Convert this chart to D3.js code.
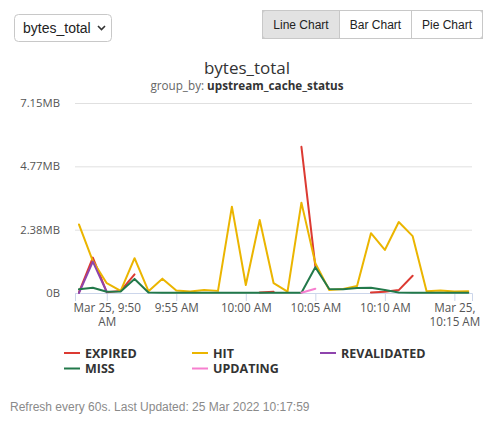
<!DOCTYPE html>
<html>
<head>
<meta charset="utf-8">
<script src="https://cdn.jsdelivr.net/npm/d3@7"></script>
<style>
  body { margin: 0; background: #fff; }
  svg text { font-family: "Open Sans", sans-serif; }
  .ui text { font-family: "Liberation Sans", Arial, sans-serif; }
</style>
</head>
<body>
<div id="chart"></div>
<script>
// data (values in MB, one point per minute)
var times = ["09:48","09:49","09:50","09:51","09:52","09:53","09:54","09:55","09:56","09:57",
             "09:58","09:59","10:00","10:01","10:02","10:03","10:04","10:05","10:06","10:07",
             "10:08","10:09","10:10","10:11","10:12","10:13","10:14","10:15","10:16"];

var expired = [0.02, 1.33, 0.03, 0.08, 0.70, null, null, null, null, null,
               null, null, null, 0.02, 0.05, null, 5.50, 1.00, null, null,
               null, 0.02, 0.05, 0.11, 0.65, null, null, null, null];
var hit = [2.58, 1.20, 0.37, 0.08, 1.31, 0.07, 0.54, 0.09, 0.06, 0.11,
           0.08, 3.25, 0.30, 2.75, 0.37, 0.05, 3.40, 1.12, 0.11, 0.15,
           0.26, 2.25, 1.62, 2.67, 2.14, 0.07, 0.09, 0.06, 0.07];
var revalidated = [0.00, 1.18, 0.03, null, null, null, null, null, null, null,
                   null, null, null, null, null, null, null, null, null, null,
                   null, null, null, null, null, null, null, null, null];
var miss = [0.14, 0.20, 0.05, 0.06, 0.53, 0.02, 0.01, 0.01, 0.01, 0.01,
            0.01, 0.01, 0.01, 0.01, 0.01, 0.01, 0.01, 0.97, 0.15, 0.14,
            0.19, 0.20, 0.11, 0.02, 0.01, 0.01, 0.01, 0.01, 0.01];
var updating = [null, null, null, null, null, null, null, null, null, null,
                null, null, null, null, null, null, 0.01, 0.16, null, null,
                null, null, null, null, null, null, null, null, null];

var seriesNames = ["EXPIRED", "HIT", "REVALIDATED", "MISS", "UPDATING"];
var seriesValues = [expired, hit, revalidated, miss, updating];
var seriesColors = ["#dc3a32", "#ebb500", "#8e44ad", "#22794a", "#f77fcf"];

var yTicks = [0, 2.383, 4.767, 7.15];
var yTickLabels = ["0B", "2.38MB", "4.77MB", "7.15MB"];
var xTicks = ["09:50", "09:55", "10:00", "10:05", "10:10", "10:15"];
var xTickLabels = ["Mar 25, 9:50|AM", "9:55 AM", "10:00 AM", "10:05 AM", "10:10 AM", "Mar 25,|10:15 AM"];
var xDomain = ["09:47:43", "10:16:16"];

var w = 495, h = 426;
var plotL = 75, plotR = 472, plotT = 103, plotB = 293;

var parseT = d3.timeParse("%H:%M");
var parseS = d3.timeParse("%H:%M:%S");

var svg = d3.select('#chart').append('svg')
  .attr('width', w)
  .attr('height', h);

// ---- controls (select + button group)
var ui = svg.append('g').attr('class', 'ui');

ui.append('rect')
  .attr('x', 14.5).attr('y', 14.5).attr('width', 97).attr('height', 27)
  .attr('rx', 4)
  .style('fill', '#fff').style('stroke', '#c8c8c8');
ui.append('text')
  .attr('x', 23).attr('y', 33)
  .style('font-size', '14px').style('fill', '#222')
  .text('bytes_total');
ui.append('path')
  .attr('d', 'M98,26 L101.5,29.5 L105,26')
  .style('fill', 'none').style('stroke', '#333').style('stroke-width', 1.6);

var buttons = ["Line Chart", "Bar Chart", "Pie Chart"];
var btnX = [262.5, 339.5, 411.5, 482.5];
buttons.forEach(function(b, i) {
  ui.append('rect')
    .attr('x', btnX[i]).attr('y', 10.5)
    .attr('width', btnX[i + 1] - btnX[i]).attr('height', 28)
    .style('fill', i == 0 ? '#e2e2e2' : '#fff')
    .style('stroke', '#c8c8c8');
  ui.append('text')
    .attr('x', (btnX[i] + btnX[i + 1]) / 2).attr('y', 29)
    .attr('text-anchor', 'middle')
    .style('font-size', '12px').style('fill', '#222')
    .text(b);
});
// rounded outer corners
ui.append('rect')
  .attr('x', 262.5).attr('y', 10.5).attr('width', 220).attr('height', 28)
  .attr('rx', 3)
  .style('fill', 'none').style('stroke', '#c8c8c8');

// ---- titles
svg.append('text')
  .attr('x', 247).attr('y', 74)
  .attr('text-anchor', 'middle')
  .style('font-size', '17px').style('fill', '#333')
  .text('bytes_total');

var sub = svg.append('text')
  .attr('x', 247).attr('y', 90)
  .attr('text-anchor', 'middle')
  .style('font-size', '11.7px').style('fill', '#666');
sub.append('tspan').text('group_by: ');
sub.append('tspan').style('font-weight', 'bold').style('fill', '#333').text('upstream_cache_status');

// ---- scales
var x = d3.scaleTime()
  .domain(xDomain.map(parseS))
  .range([plotL, plotR]);

var y = d3.scaleLinear()
  .domain([0, 7.15])
  .range([plotB, plotT]);

// gridlines + y labels
var yAxis = svg.append('g')
  .attr('transform', 'translate(' + plotL + ',0)')
  .call(d3.axisLeft(y)
    .tickValues(yTicks)
    .tickSize(-(plotR - plotL))
    .tickPadding(15)
    .tickFormat(function(d, i) { return yTickLabels[i]; }));
yAxis.select('.domain').remove();
yAxis.selectAll('line').style('stroke', '#e0e0e0');
yAxis.selectAll('text')
  .style('font-size', '11.3px').style('fill', '#555')
  .style('font-family', '"Open Sans", sans-serif');

// x axis
var xAxis = svg.append('g')
  .attr('transform', 'translate(0,' + plotB + ')')
  .call(d3.axisBottom(x)
    .tickValues(xTicks.map(parseT))
    .tickSizeOuter(0)
    .tickSize(8)
    .tickFormat(function(d, i) { return xTickLabels[i]; }));
xAxis.select('.domain').style('stroke', '#ccd6eb');
xAxis.selectAll('.tick line').style('stroke', '#ccd6eb');
xAxis.selectAll('.tick text').each(function() {
  var t = d3.select(this);
  var parts = t.text().split('|');
  t.text(null)
    .attr('y', 19)
    .attr('dy', null)
    .style('font-size', '11.7px').style('fill', '#555')
    .style('font-family', '"Open Sans", sans-serif');
  parts.forEach(function(p, k) {
    t.append('tspan')
      .attr('x', 0)
      .attr('dy', k == 0 ? '0' : '13.5')
      .text(p);
  });
});

// ---- lines
var line = d3.line()
  .defined(function(d) { return d.v != null; })
  .x(function(d) { return x(d.t); })
  .y(function(d) { return y(d.v); });

seriesValues.forEach(function(vals, s) {
  var pts = vals.map(function(v, i) { return { t: parseT(times[i]), v: v }; });
  svg.append('path')
    .datum(pts)
    .attr('d', line)
    .style('fill', 'none')
    .style('stroke', seriesColors[s])
    .style('stroke-width', 2)
    .style('stroke-linejoin', 'round')
    .style('stroke-linecap', 'round');
});

// ---- legend
var legX = [64, 192, 320];
var legY = [353, 368.5];
seriesNames.forEach(function(name, i) {
  var lx = legX[i % 3], ly = legY[Math.floor(i / 3)];
  svg.append('line')
    .attr('x1', lx).attr('x2', lx + 16)
    .attr('y1', ly).attr('y2', ly)
    .style('stroke', seriesColors[i])
    .style('stroke-width', 2);
  svg.append('text')
    .attr('x', lx + 21).attr('y', ly + 4.5)
    .style('font-size', '12.5px').style('font-weight', 'bold').style('fill', '#333')
    .text(name);
});

// ---- footer
svg.append('text')
  .attr('class', 'foot')
  .attr('x', 10).attr('y', 411)
  .style('font-family', '"Liberation Sans", Arial, sans-serif')
  .style('font-size', '12px').style('fill', '#8a8a8a')
  .text('Refresh every 60s. Last Updated: 25 Mar 2022 10:17:59');
</script>
</body>
</html>
